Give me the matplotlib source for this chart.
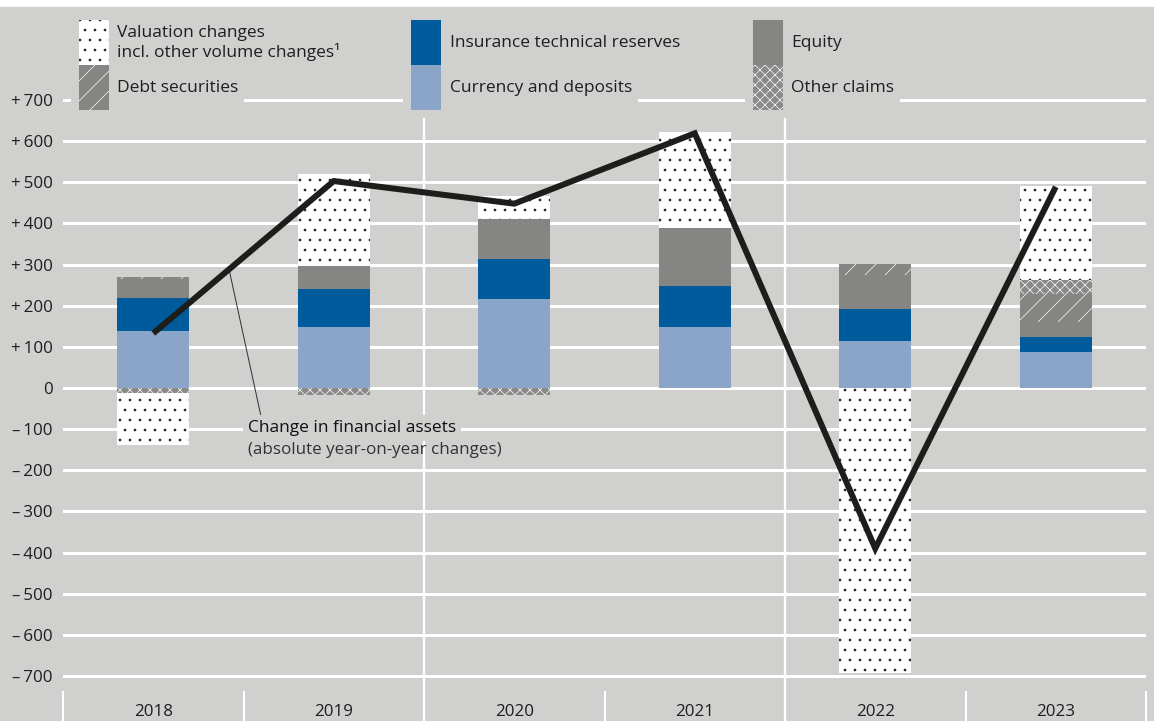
import matplotlib
matplotlib.use("Agg")
import matplotlib.pyplot as plt
from matplotlib.patches import Rectangle
import numpy as np

plt.rcParams['font.family'] = ['Open Sans', 'DejaVu Sans']
plt.rcParams['hatch.linewidth'] = 0.4

# ---------------- data ----------------
years = ["2018", "2019", "2020", "2021", "2022", "2023"]
currency = [138, 148, 216, 149, 114, 88]
insurance = [80, 92, 98, 99, 78, 37]
equity = [46, 57, 96, 140, 83, 36]
debt = [5, 0, 0, 0, 26, 67]
other_claims = [-12, -18, -18, 0, 0, 34]
valuation = [-127, 222, 57, 235, -693, 229]
change_total = [133, 503, 448, 619, -390, 489]

yticks = [700, 600, 500, 400, 300, 200, 100, 0, -100, -200, -300, -400, -500, -600, -700]
ytick_labels = ["+\u2009700", "+\u2009600", "+\u2009500", "+\u2009400", "+\u2009300",
                "+\u2009200", "+\u2009100", "0", "\u2013\u2009100", "\u2013\u2009200",
                "\u2013\u2009300", "\u2013\u2009400", "\u2013\u2009500", "\u2013\u2009600",
                "\u2013\u2009700"]

legend_labels = {
    "valuation": "Valuation changes\nincl. other volume changes\u00b9",
    "debt": "Debt securities",
    "insurance": "Insurance technical reserves",
    "currency": "Currency and deposits",
    "equity": "Equity",
    "other": "Other claims",
}

# ---------------- style ----------------
BG = "#d0d0cf"
C_CUR = "#8ba5c8"
C_INS = "#005b9c"
C_EQ = "#858584"
C_TXT = "#1e1e1e"
LINE_C = "#1d1d1b"

styles = {
    "currency": dict(color=C_CUR, lw=0),
    "insurance": dict(color=C_INS, lw=0),
    "equity": dict(color=C_EQ, lw=0),
    "debt": dict(facecolor=C_EQ, edgecolor="white", hatch="//", lw=0),
    "other": dict(facecolor="#8a8a89", edgecolor="white", hatch="xxxx", lw=0),
    "valuation": dict(facecolor="white", edgecolor="#1a1a1a", hatch="..", lw=0),
}

W, H, DPI = 1154, 721, 120
fig = plt.figure(figsize=(W / DPI, H / DPI), dpi=DPI)
fig.patch.set_facecolor(BG)

ax_left, ax_right, ax_top = 63, 1146, 6
ax = fig.add_axes([ax_left / W, 0, (ax_right - ax_left) / W, (H - ax_top) / H])
ax.set_facecolor(BG)
for s in ax.spines.values():
    s.set_visible(False)

# pixel mapping: +700 at y=100px, -700 at y=676px
ppu = (676 - 100) / 1400.0
y_top = 700 + (100 - ax_top) / ppu
y_bot = -700 - (H - 676) / ppu
ax.set_xlim(-0.5, 5.5)
ax.set_ylim(y_bot, y_top)

ax.set_yticks(yticks, ytick_labels)
ax.set_xticks([])
ax.tick_params(axis="y", length=0, pad=6, labelsize=10.2, labelcolor=C_TXT)
ax.yaxis.grid(True, color="white", lw=1.8)
ax.set_axisbelow(True)

x = np.arange(len(years))
bw = 0.4

# positive stack
pos_series = [("currency", currency), ("insurance", insurance), ("equity", equity),
              ("debt", debt), ("other", other_claims), ("valuation", valuation)]
pos_bottom = np.zeros(len(years))
neg_bottom = np.zeros(len(years))
neg_order = [("other", other_claims), ("valuation", valuation)]

for key, vals in pos_series:
    v = np.array(vals, dtype=float)
    vp = np.where(v > 0, v, 0)
    ax.bar(x, vp, bw, bottom=pos_bottom, zorder=2, **styles[key])
    pos_bottom += vp
for key, vals in neg_order:
    v = np.array(vals, dtype=float)
    vn = np.where(v < 0, v, 0)
    ax.bar(x, vn, bw, bottom=neg_bottom, zorder=2, **styles[key])
    neg_bottom += vn

# separators
ax.vlines([1.5, 3.5], y_bot, 700 + (100 - 118) / ppu, color="white", lw=1.4, zorder=1.5)
ax.vlines(np.arange(-0.5, len(years), 1.0), y_bot, -700 - (691 - 676) / ppu,
          color="white", lw=1.2, zorder=1.5, clip_on=False)

# category labels
for i, yr in enumerate(years):
    ax.text(i, -700 - (712 - 676) / ppu, yr, ha="center", va="center",
            fontsize=10.2, color=C_TXT)

# total line
ax.plot(x, change_total, color=LINE_C, lw=3.6, solid_joinstyle="miter",
        solid_capstyle="butt", zorder=5)

# annotation
xs = 0.42
ys = np.interp(xs, x, change_total)
ax.plot([xs, 0.60], [ys, -75], color="#333333", lw=0.6, zorder=4)
ax.text(0.525, -97, "Change in financial assets", ha="left", va="center",
        fontsize=10.4, color="#111111", zorder=6,
        bbox=dict(boxstyle="square,pad=0.3", fc=BG, ec="none"))
ax.text(0.525, -150, "(absolute year-on-year changes)", ha="left", va="center",
        fontsize=10.2, color="#333333", zorder=6)

# white strip at top
fig.add_artist(Rectangle((0, 1 - ax_top / H), 1, ax_top / H, transform=fig.transFigure,
                         color="white", zorder=20))


# legend
def fxy(px, py):
    return px / W, 1 - py / H


pw, ph = 30, 45
legend_cols = [
    (79, 117, ["valuation", "debt"]),
    (411, 450, ["insurance", "currency"]),
    (753, 791, ["equity", "other"]),
]
for pleft, tx, keys in legend_cols:
    bx, by = fxy(pleft - 8, 110)
    fig.add_artist(Rectangle((bx, by), (pw + 16) / W, 90 / H, transform=fig.transFigure,
                             facecolor=BG, edgecolor="none", zorder=10))
    for r, key in enumerate(keys):
        top = 20 + r * ph
        rx, ry = fxy(pleft, top + ph)
        st = dict(styles[key])
        if "color" in st:
            st = dict(facecolor=st["color"], edgecolor="none", lw=0)
        fig.add_artist(Rectangle((rx, ry), pw / W, ph / H, transform=fig.transFigure,
                                 zorder=11, **st))
        cy = 43 if r == 0 else 88
        if key == "valuation":
            cy = 43
        tx_f, ty_f = fxy(tx, cy)
        kw = {}
        if key != "valuation":
            kw["bbox"] = dict(boxstyle="square,pad=0.35", fc=BG, ec="none")
        fig.text(tx_f, ty_f, legend_labels[key], ha="left", va="center", fontsize=10.4,
                 color=C_TXT, zorder=12, linespacing=1.2, **kw)

fig.savefig("out.png", dpi=DPI, facecolor=BG)
